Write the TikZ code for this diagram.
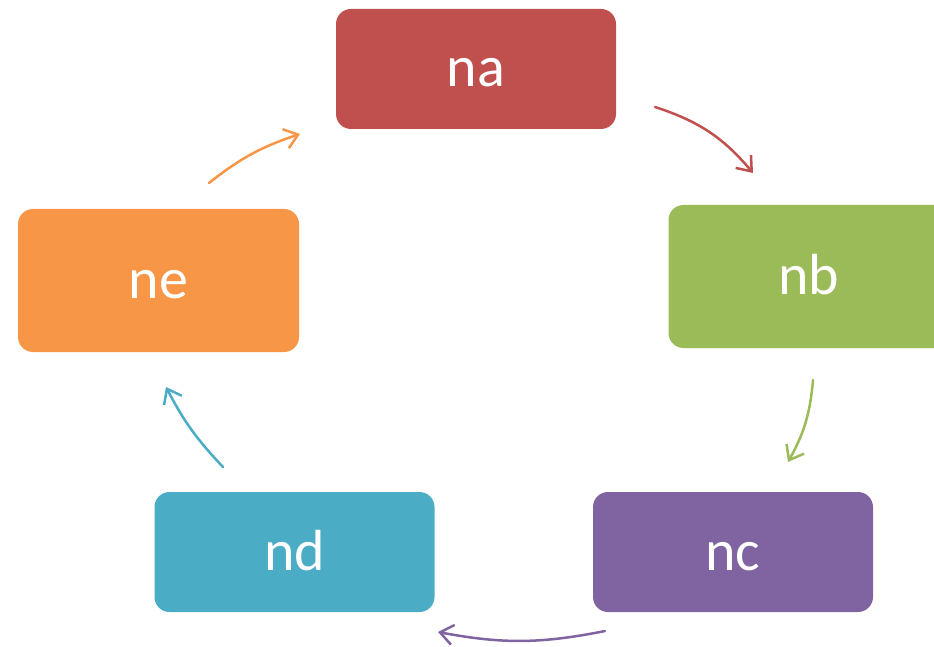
\documentclass[tikz,border=0pt]{standalone}
\usepackage{fontspec}
\setmainfont{Carlito}
\usetikzlibrary{arrows.meta}
\definecolor{cra}{HTML}{C0504D}
\definecolor{crb}{HTML}{9BBB59}
\definecolor{crc}{HTML}{8064A2}
\definecolor{crd}{HTML}{4BACC6}
\definecolor{cre}{HTML}{F79646}
\tikzset{
  box/.style={rounded corners=15pt, minimum width=280pt, minimum height=120pt, inner sep=0pt, text=white, text height=36pt, text depth=0pt, font=\fontsize{58}{60}\selectfont},
  tallbox/.style={box, minimum width=281pt, minimum height=143pt},
  conn/.style={line width=2.5pt, -{Straight Barb[length=13pt,width=20pt,line width=2.5pt]}, line cap=round, bend left=#1},
  conn/.default=14
}
\begin{document}
\begin{tikzpicture}[x=1pt,y=-1pt]
\useasboundingbox (0,0) rectangle (934,647);
\clip (0,0) rectangle (934,647);
\node[box, fill=cra] (na) at (476,69) {na};
\node[tallbox, fill=crb] (nb) at (809,276.5) {nb};
\node[box, fill=crc] (nc) at (733,552) {nc};
\node[box, fill=crd] (nd) at (294.5,552) {nd};
\node[tallbox, fill=cre] (ne) at (158.5,280.5) {ne};
\coordinate (a1s) at (655,107); \coordinate (a1e) at (753,173);
\coordinate (a2s) at (813,380); \coordinate (a2e) at (788,462);
\coordinate (a3s) at (605,631); \coordinate (a3e) at (438,632);
\coordinate (a4s) at (223,467); \coordinate (a4e) at (166,387);
\coordinate (a5s) at (209,183); \coordinate (a5e) at (300,134);
\draw[conn=16, cra] (a1s) to (a1e);
\draw[conn=12, crb] (a2s) to (a2e);
\draw[conn=11, crc] (a3s) to (a3e);
\draw[conn=8, crd] (a4s) to (a4e);
\draw[conn=10, cre] (a5s) to (a5e);
\end{tikzpicture}
\end{document}
